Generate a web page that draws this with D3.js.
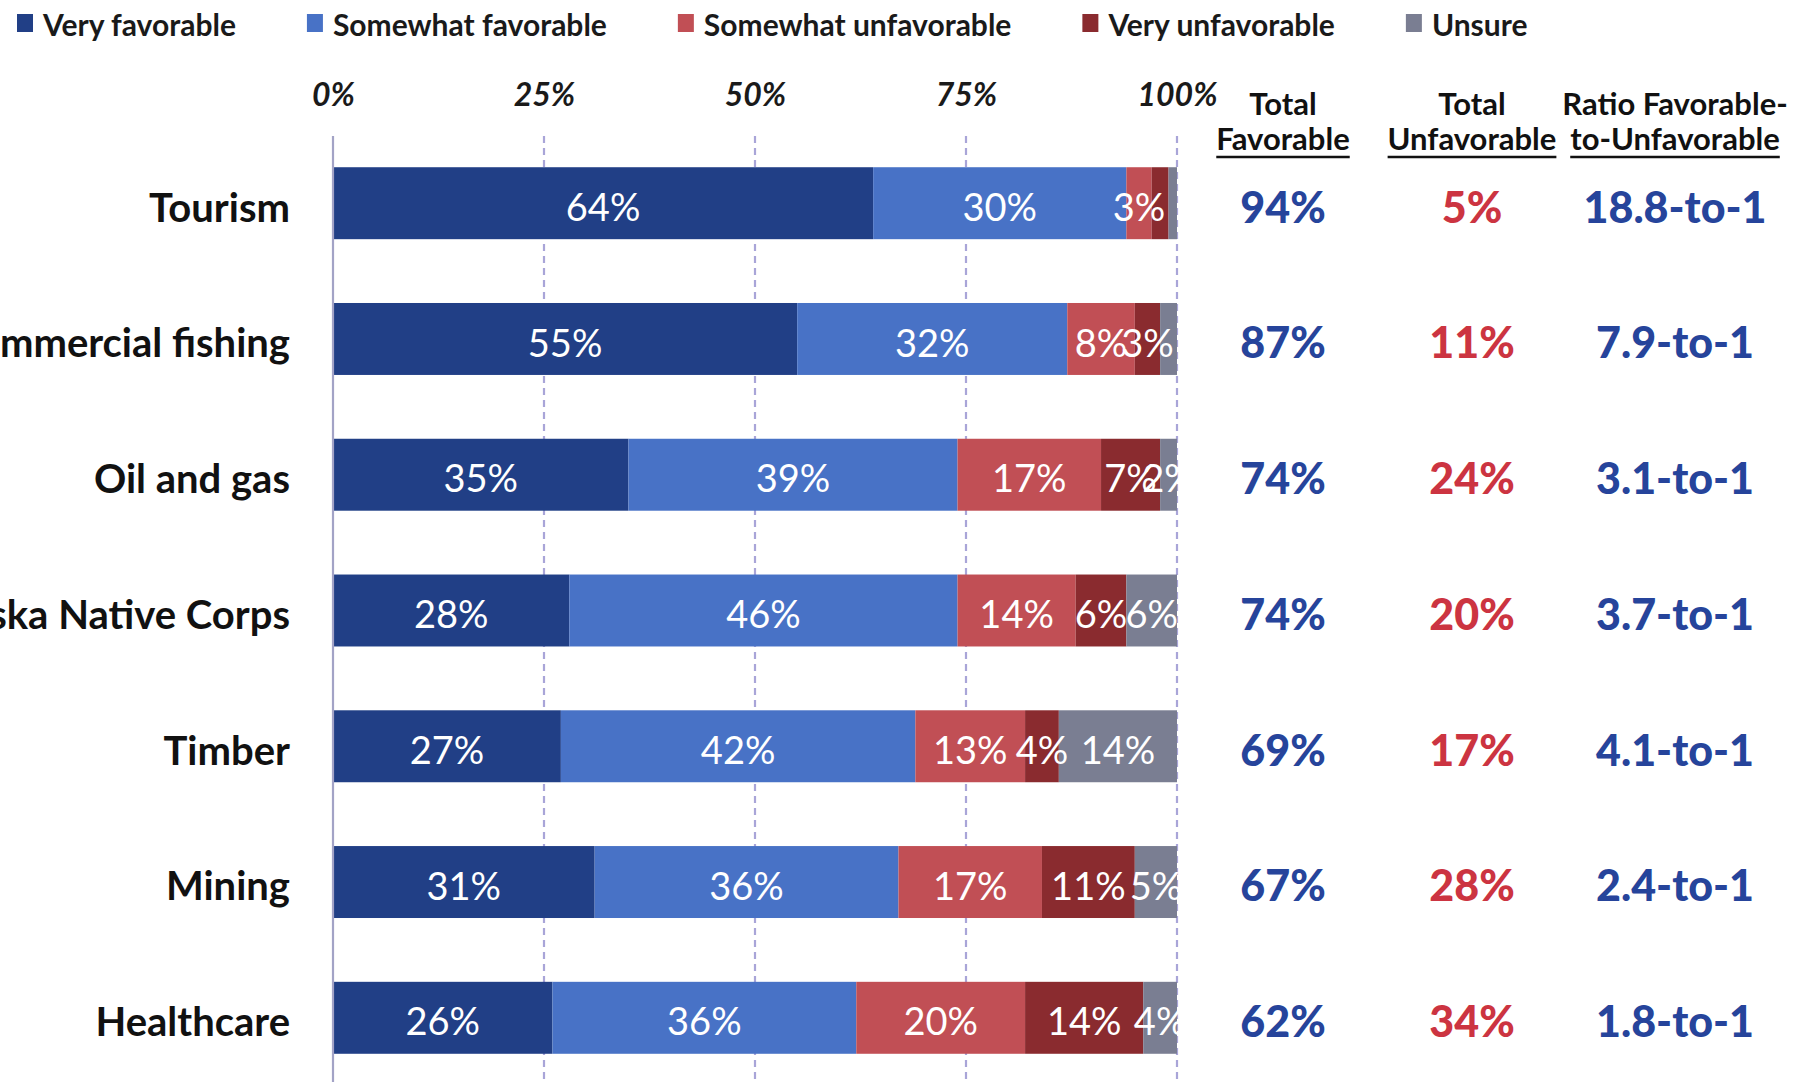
<!DOCTYPE html>
<html>
<head>
<meta charset="utf-8">
<script src="https://cdn.jsdelivr.net/npm/d3@7"></script>
<style>
  html, body { margin: 0; padding: 0; background: #fff; overflow: hidden; }
  svg { display: block; }
  text { font-family: Lato, "Open Sans", sans-serif; }
</style>
</head>
<body>
<svg id="chart" width="1807" height="1082"></svg>
<script>
// ---- data -------------------------------------------------------------
const categories = ["Tourism", "Commercial fishing", "Oil and gas", "Alaska Native Corps", "Timber", "Mining", "Healthcare"];
const seriesNames = ["Very favorable", "Somewhat favorable", "Somewhat unfavorable", "Very unfavorable", "Unsure"];
const veryFavorable       = [64, 55, 35, 28, 27, 31, 26];
const somewhatFavorable   = [30, 32, 39, 46, 42, 36, 36];
const somewhatUnfavorable = [3, 8, 17, 14, 13, 17, 20];
const veryUnfavorable     = [2, 3, 7, 6, 4, 11, 14];
const unsure              = [1, 2, 2, 6, 14, 5, 4];
const tickValues = [0, 25, 50, 75, 100];
const columnHeaders = [["Total", "Favorable"], ["Total", "Unfavorable"], ["Ratio Favorable-", "to-Unfavorable"]];
// slices too thin to carry a label
const unlabeled = [["Tourism", "Very unfavorable"], ["Tourism", "Unsure"], ["Commercial fishing", "Unsure"]];

const seriesColors = ["#213f86", "#4872c6", "#c14f55", "#8a2b2f", "#7a7e92"];
const favColor = "#26449b", unfavColor = "#cc3441";

// ---- layout -----------------------------------------------------------
const W = 1807, H = 1082;
const svg = d3.select("#chart");

const x = d3.scaleLinear().domain([0, 100]).range([333, 1177]);
const y = d3.scaleBand().domain(categories).range([136, 1085])
  .paddingInner(0.47).paddingOuter(0.23);
const color = d3.scaleOrdinal().domain(seriesNames).range(seriesColors);

const rows = categories.map((c, i) => ({
  category: c,
  "Very favorable": veryFavorable[i],
  "Somewhat favorable": somewhatFavorable[i],
  "Somewhat unfavorable": somewhatUnfavorable[i],
  "Very unfavorable": veryUnfavorable[i],
  "Unsure": unsure[i]
}));
const stacked = d3.stack().keys(seriesNames)(rows);

const capL = 0.717; // Lato cap-height ratio
const rowShift = 4;

// ---- grid -------------------------------------------------------------
svg.append("g").selectAll("line")
  .data(tickValues.filter(d => d > 0))
  .join("line")
  .attr("x1", d => x(d)).attr("x2", d => x(d))
  .attr("y1", 136).attr("y2", H)
  .attr("stroke", "#a9a5d8").attr("stroke-width", 2.2)
  .attr("stroke-dasharray", "7 5");

// ---- bars -------------------------------------------------------------
const layers = svg.append("g").selectAll("g")
  .data(stacked).join("g")
  .attr("fill", d => color(d.key));

layers.selectAll("rect")
  .data(d => d.map(v => Object.assign(v, { key: d.key })))
  .join("rect")
  .attr("x", d => x(d[0]))
  .attr("width", d => x(d[1]) - x(d[0]))
  .attr("y", d => y(d.data.category))
  .attr("height", y.bandwidth());

// vertical axis line at 0%
svg.append("line")
  .attr("x1", x(0)).attr("x2", x(0)).attr("y1", 136).attr("y2", H)
  .attr("stroke", "#a3a3c6").attr("stroke-width", 2.2);

// ---- segment labels ---------------------------------------------------
svg.append("clipPath").attr("id", "plotClip")
  .append("rect").attr("x", x(0)).attr("y", 0).attr("width", x(100) - x(0) + 2).attr("height", H);

const hidden = new Set(unlabeled.map(d => d[0] + "|" + d[1]));
const segFont = 38;
svg.append("g").attr("clip-path", "url(#plotClip)")
  .selectAll("text")
  .data(stacked.flat().filter(d => !hidden.has(d.data.category + "|" + d.key)))
  .join("text")
  .attr("x", d => x((d[0] + d[1]) / 2))
  .attr("y", d => y(d.data.category) + y.bandwidth() / 2 + rowShift + capL * segFont / 2)
  .attr("text-anchor", "middle")
  .attr("fill", "#ffffff")
  .style("font-size", segFont + "px")
  .text(d => (d[1] - d[0]) + "%");

// ---- top percentage axis ---------------------------------------------
const tickFont = 32;
const topAxis = svg.append("g").attr("transform", "translate(0,106)")
  .call(d3.axisTop(x).tickValues(tickValues).tickFormat(d => d + "%").tickSize(0).tickPadding(0));
topAxis.select(".domain").remove();
topAxis.selectAll("text")
  .attr("y", 0).attr("dy", 0)
  .attr("fill", "#1a1a1a")
  .style("font-size", tickFont + "px")
  .style("font-style", "italic")
  .style("font-weight", 700)
  .style("font-family", "Lato, sans-serif");

// ---- category axis ----------------------------------------------------
const catFont = 40;
const leftAxis = svg.append("g").attr("transform", "translate(290,0)")
  .call(d3.axisLeft(y).tickSize(0).tickPadding(0));
leftAxis.select(".domain").remove();
leftAxis.selectAll("text")
  .attr("x", 0).attr("dy", 0)
  .attr("y", rowShift + capL * catFont / 2)
  .attr("fill", "#111")
  .style("font-size", catFont + "px")
  .style("font-weight", 700)
  .style("font-family", "Lato, sans-serif");

// ---- legend -----------------------------------------------------------
const legFont = 30;
const legend = svg.append("g");
let lx = 17;
seriesNames.forEach(name => {
  const g = legend.append("g").attr("transform", `translate(${lx},0)`);
  g.append("rect").attr("x", 0).attr("y", 14).attr("width", 16).attr("height", 18)
    .attr("fill", color(name));
  const t = g.append("text").attr("x", 26).attr("y", 36)
    .attr("fill", "#1a1a1a")
    .style("font-size", legFont + "px").style("font-weight", 700)
    .text(name);
  lx += 26 + t.node().getComputedTextLength() + 71;
});

// ---- summary columns --------------------------------------------------
const colX = [1283, 1472, 1675];
const headFont = 31;
const header = svg.append("g");
columnHeaders.forEach((lines, i) => {
  header.append("text").attr("x", colX[i]).attr("y", 115)
    .attr("text-anchor", "middle").attr("fill", "#111")
    .style("font-size", headFont + "px").style("font-weight", 700)
    .text(lines[0]);
  const t2 = header.append("text").attr("x", colX[i]).attr("y", 150)
    .attr("text-anchor", "middle").attr("fill", "#111")
    .style("font-size", headFont + "px").style("font-weight", 700)
    .text(lines[1]);
  const w = t2.node().getComputedTextLength();
  header.append("line")
    .attr("x1", colX[i] - w / 2).attr("x2", colX[i] + w / 2)
    .attr("y1", 157).attr("y2", 157)
    .attr("stroke", "#111").attr("stroke-width", 2.6);
});

const totalFav = categories.map((c, i) => veryFavorable[i] + somewhatFavorable[i]);
const totalUnfav = categories.map((c, i) => somewhatUnfavorable[i] + veryUnfavorable[i]);
const ratio = categories.map((c, i) => (totalFav[i] / totalUnfav[i]).toFixed(1) + "-to-1");

const valFont = 43;
const cols = [
  { vals: totalFav.map(v => v + "%"), fill: favColor },
  { vals: totalUnfav.map(v => v + "%"), fill: unfavColor },
  { vals: ratio, fill: favColor }
];
cols.forEach((col, i) => {
  svg.append("g").selectAll("text")
    .data(categories)
    .join("text")
    .attr("x", colX[i])
    .attr("y", c => y(c) + y.bandwidth() / 2 + rowShift + capL * valFont / 2)
    .attr("text-anchor", "middle")
    .attr("fill", col.fill)
    .style("font-size", valFont + "px")
    .style("font-weight", 900)
    .text((c, j) => col.vals[j]);
});
</script>
</body>
</html>
